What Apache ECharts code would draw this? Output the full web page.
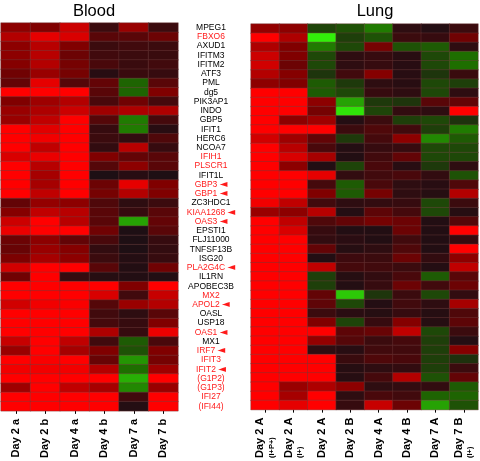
<!DOCTYPE html>
<html><head><meta charset="utf-8">
<style>html,body{margin:0;padding:0;background:#fff}#c{width:480px;height:461px}</style>
<script src="https://cdn.jsdelivr.net/npm/echarts@6/dist/echarts.min.js"></script>
</head><body><div id="c"></div>
<script>
const genes = ["MPEG1","FBXO6","AXUD1","IFITM3","IFITM2","ATF3","PML","dg5","PIK3AP1","INDO","GBP5","IFIT1","HERC6","NCOA7","IFIH1","PLSCR1","IFIT1L","GBP3","GBP1","ZC3HDC1","KIAA1268","OAS3","EPSTI1","FLJ11000","TNFSF13B","ISG20","PLA2G4C","IL1RN","APOBEC3B","MX2","APOL2","OASL","USP18","OAS1","MX1","IRF7","IFIT3","IFIT2","(G1P2)","(G1P3)","IFI27","(IFI44)"];
const redGenes = ["FBXO6","IFIH1","PLSCR1","GBP3","GBP1","KIAA1268","OAS3","PLA2G4C","MX2","APOL2","OAS1","IRF7","IFIT3","IFIT2","(G1P2)","(G1P3)","IFI27","(IFI44)"];
const arrowGenes = ["GBP3","GBP1","KIAA1268","OAS3","PLA2G4C","APOL2","OAS1","IRF7","IFIT2"];
const bloodColumns = ["Day 2 a","Day 2 b","Day 4 a","Day 4 b","Day 7 a","Day 7 b"];
const lungColumns = ["Day 2 A\n(I+P+)","Day 2 A\n(I+)","Day 2 A","Day 2 B","Day 4 A","Day 4 B","Day 7 A","Day 7 B\n(I+)"];
const bloodValues = [
[55,50,80,15,60,15],[70,90,85,30,30,40],[55,72,50,15,18,15],[55,72,40,18,15,14],[52,70,45,22,14,18],[42,60,45,5,14,12],
[35,90,28,35,-45,30],[100,100,100,30,-45,50],[50,62,70,22,42,20],[60,68,80,62,68,68],[60,75,100,28,-55,20],[100,88,100,12,-55,5],
[100,95,100,15,10,25],[100,75,100,10,72,12],[85,92,100,50,35,30],[100,72,100,28,55,30],[100,65,100,0,5,0],[100,65,100,40,90,50],
[100,75,100,45,70,50],[35,58,55,25,8,15],[52,75,72,30,12,30],[80,100,72,30,-70,35],[92,100,100,42,0,30],[40,55,35,22,0,12],
[38,60,52,10,0,10],[48,65,55,15,3,12],[82,100,100,30,2,42],[42,100,12,4,2,2],[100,100,100,100,50,100],[100,100,100,85,18,78],
[82,95,98,28,60,70],[100,100,100,18,8,30],[100,100,100,20,12,50],[100,100,100,68,12,92],[78,100,75,18,-40,22],[60,100,65,50,-35,50],
[100,98,100,38,-65,45],[95,95,95,70,-50,62],[100,100,100,100,-75,100],[62,100,75,65,-60,60],[100,100,100,100,18,100],[100,100,100,100,3,100]
];
const lungValues = [
[58,55,-28,-35,-55,8,3,15],[100,68,-100,-25,-35,15,12,42],[68,50,-55,-30,45,-35,-40,8],[80,50,-30,8,12,5,-30,-50],[82,40,-30,8,12,5,-30,-50],
[70,52,-20,18,52,5,-20,14],[55,50,-40,-22,8,5,-30,-25],[100,100,-40,-30,12,8,-30,8],[100,100,55,-70,-22,-20,30,35],[100,100,45,-95,-28,10,8,100],
[100,55,62,3,15,-25,-30,-18],[100,100,100,15,25,18,-25,-55],[82,62,35,-22,20,55,-60,-40],[100,72,22,3,12,12,-30,-30],[100,85,65,2,18,35,-30,-30],
[100,55,2,-28,22,5,-22,8],[100,100,90,10,18,22,10,-35],[100,100,20,-40,22,8,5,25],[100,100,50,-40,45,8,4,70],[95,75,18,8,10,12,-30,15],
[60,55,72,3,32,20,-30,4],[100,75,25,35,45,40,2,28],[100,85,12,2,2,40,2,100],[100,100,10,6,2,18,2,12],[100,100,35,4,8,25,2,100],
[100,100,2,16,15,40,10,55],[100,100,75,20,18,15,3,75],[100,100,-25,4,10,22,-40,30],[100,100,-25,3,12,40,18,40],[100,100,35,-85,-20,15,-30,10],
[100,100,33,-30,3,18,8,65],[100,100,15,6,4,12,4,25],[100,100,50,-28,12,52,4,32],[100,100,100,32,38,75,-30,15],[100,100,58,28,15,20,-25,3],
[100,100,8,5,18,18,-25,52],[100,100,100,14,25,22,-25,-18],[100,100,100,4,8,10,-25,15],[100,100,100,4,20,70,-35,35],[100,60,68,55,8,10,10,-40],
[100,65,100,8,22,18,-45,-45],[100,90,100,12,78,40,-70,-35]
];
const toCells = rows => rows.flatMap((r, y) => r.map((v, x) => [x, y, v]));
const font = '"Liberation Sans", Arial, sans-serif';
const cellStyle = {borderColor: 'rgba(110,60,60,0.7)', borderWidth: 0.6};
const hiddenAxis = {axisLine:{show:false}, axisTick:{show:false}, splitLine:{show:false}};
const xLabel = {
  rotate: 90, margin: 8, fontFamily: font, fontWeight: 'bold', fontSize: 11, color: '#000', interval: 0, hideOverlap:false
};
const xTick = {show:true, length:3, alignWithLabel:true, lineStyle:{color:'#000', width:1}};
const chart = echarts.init(document.getElementById('c'), null, {renderer:'canvas'});
chart.setOption({
  animation:false,
  backgroundColor:'#fff',
  title:[
    {text:'Blood', left:89, top:-2, textAlign:'center', textStyle:{fontFamily:font, fontSize:16.5, fontWeight:'normal', color:'#000'}},
    {text:'Lung', left:370, top:-2, textAlign:'center', textStyle:{fontFamily:font, fontSize:16.5, fontWeight:'normal', color:'#000'}}
  ],
  grid:[
    {left:1, top:23, width:177, height:388},
    {left:251, top:24, width:227, height:387}
  ],
  xAxis:[
    {type:'category', gridIndex:0, data:bloodColumns, ...hiddenAxis, axisTick:xTick, axisLabel:xLabel},
    {type:'category', gridIndex:1, data:lungColumns, ...hiddenAxis, axisTick:xTick,
     axisLabel:{...xLabel,
       formatter:v => { const p = v.split('\n'); return p[1] ? `{a|${p[0]}}\n{b|${p[1]}}` : `{a|${p[0]}}`; },
       rich:{
         a:{fontFamily:font, fontWeight:'bold', fontSize:11, color:'#000', lineHeight:13},
         b:{fontFamily:font, fontWeight:'bold', fontSize:7.5, color:'#000', lineHeight:10, align:'left'}
       }}}
  ],
  yAxis:[
    {type:'category', gridIndex:0, inverse:true, position:'right', data:genes, ...hiddenAxis,
     axisLabel:{interval:0, hideOverlap:false, align:'center', margin:33, fontFamily:font, fontSize:8.5,
       color:v => redGenes.includes(v) ? '#ff1a1a' : '#000',
       formatter:v => arrowGenes.includes(v) ? `{t|${v}} {r|\u25C4}` : v,
       rich:{
         t:{fontFamily:font, fontSize:8.5, color:'#ff1a1a'},
         r:{fontFamily:'"DejaVu Sans"', fontSize:10, color:'#ff1a1a'}
       }}},
    {type:'category', gridIndex:1, inverse:true, data:genes, ...hiddenAxis, axisLabel:{show:false}}
  ],
  visualMap:{
    show:false, min:-100, max:100, seriesIndex:[0,1], dimension:2,
    inRange:{color:['#32f00a','#1e6e00','#1e0f14','#800000','#ff0000']}
  },
  series:[
    {type:'heatmap', xAxisIndex:0, yAxisIndex:0, data:toCells(bloodValues), itemStyle:cellStyle, emphasis:{disabled:true}},
    {type:'heatmap', xAxisIndex:1, yAxisIndex:1, data:toCells(lungValues), itemStyle:cellStyle, emphasis:{disabled:true}}
  ]
});
</script></body></html>
